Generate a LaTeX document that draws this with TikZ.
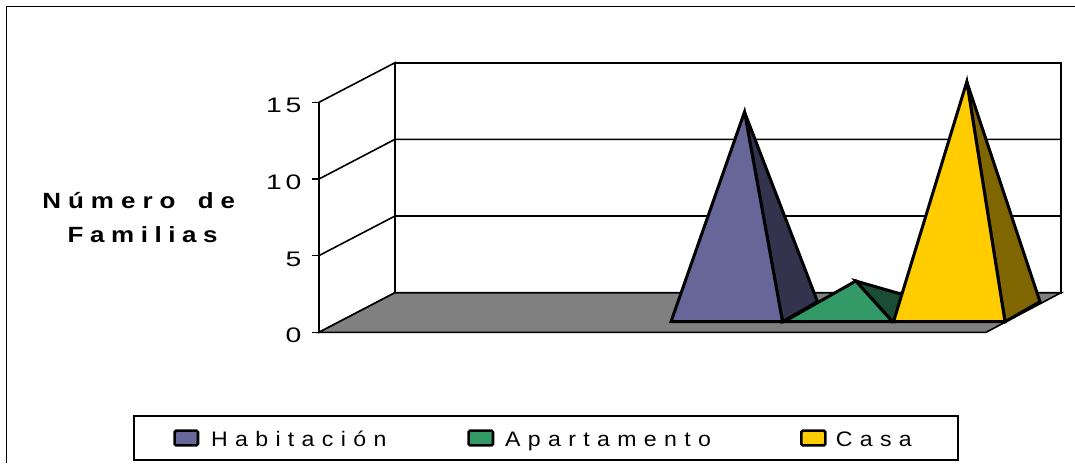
\documentclass[tikz,border=0pt]{standalone}
\usepackage{fontspec}
\setmainfont{Liberation Sans}
\newfontfamily\titfontA[LetterSpace=32,FakeStretch=1.18]{Liberation Sans}
\newfontfamily\titfontB[LetterSpace=30,FakeStretch=1.18]{Liberation Sans}
\newfontfamily\legfont[LetterSpace=35,FakeStretch=1.1]{Liberation Sans}
\newfontfamily\numfont[FakeStretch=1.35]{Liberation Sans}
\definecolor{pur}{HTML}{666699}
\definecolor{purd}{HTML}{33334D}
\definecolor{grn}{HTML}{339966}
\definecolor{grnd}{HTML}{1A4D33}
\definecolor{yel}{HTML}{FFCC00}
\definecolor{yeld}{HTML}{806600}
\definecolor{flr}{HTML}{808080}
\begin{document}
\begin{tikzpicture}[x=1pt,y=-1pt,
  wall/.style={draw=black,line width=1.6pt},
  pyr/.style={draw=black,line width=3pt,line join=miter},
  ticklab/.style={anchor=base east,inner sep=0pt,font=\numfont\fontsize{21}{25}\selectfont},
  tit/.style={anchor=base west,inner sep=0pt},
  legtxt/.style={anchor=base west,inner sep=0pt,font=\legfont\fontsize{21}{25}\selectfont},
  swatch/.style={draw=black,line width=2.6pt,rounded corners=1.5pt}]
\useasboundingbox (0,0) rectangle (1075,463);
% outer frame
\draw[line width=1.7pt] (6.5,463) -- (6.5,6.5) -- (1075,6.5);
% walls
\draw[wall,fill=white] (319,102.3) -- (395,62.7) -- (395,292.7) -- (319,332.3) -- cycle;
\draw[wall,fill=white] (395,62.7) rectangle (1061,292.7);
\draw[wall] (319,179) -- (395,139.3) -- (1061,139.3);
\draw[wall] (319,255.6) -- (395,216) -- (1061,216);
% floor
\draw[wall,fill=flr] (319,332.3) -- (986,332.3) -- (1061,292.7) -- (395,292.7) -- cycle;
% ticks
\foreach \yy in {102.3,179,255.6,332.3} \draw[wall] (312,\yy) -- (319,\yy);
\node[ticklab] (t15) at (301.5,112.7) {1\hspace{3.7pt}5};
\node[ticklab] (t10) at (301.5,189.4) {1\hspace{3.7pt}0};
\node[ticklab] (t5) at (301.5,266) {5};
\node[ticklab] (t0) at (301.5,342.7) {0};
% axis title
\node[tit,font=\titfontA\bfseries\fontsize{22}{26}\selectfont] (ya1) at (42.1,208.3) {Número\hspace{8pt} de};
\node[tit,font=\titfontB\bfseries\fontsize{22}{26}\selectfont] (ya2) at (67.4,242.3) {Familias};
% pyramids
\draw[pyr,fill=purd] (782.5,321.7) -- (817.5,301.7) -- (744.5,112) -- cycle;
\draw[pyr,fill=pur] (671,321.7) -- (782.5,321.7) -- (744.5,112) -- cycle;
\draw[pyr,fill=grnd] (892.5,321.7) -- (927.5,301.7) -- (855.8,281) -- cycle;
\draw[pyr,fill=grn] (784,321.7) -- (892.5,321.7) -- (855.8,281) -- cycle;
\draw[pyr,fill=yeld] (1005,321.7) -- (1040,301.7) -- (966.8,81.7) -- cycle;
\draw[pyr,fill=yel] (893.5,321.7) -- (1005,321.7) -- (966.8,81.7) -- cycle;
% legend
\draw[line width=1.7pt,fill=white] (134,415.8) rectangle (958.2,460.2);
\draw[swatch,fill=pur] (174.6,430.6) rectangle (198,445.4);
\draw[swatch,fill=grn] (468.6,430.6) rectangle (493,445.4);
\draw[swatch,fill=yel] (801.3,430.6) rectangle (825.4,445.4);
\node[legtxt] (l1) at (210.9,446.7) {Habitación};
\node[legtxt] (l2) at (505,446.7) {Apartamento};
\node[legtxt] (l3) at (835.6,446.7) {Casa};
\end{tikzpicture}
\end{document}
